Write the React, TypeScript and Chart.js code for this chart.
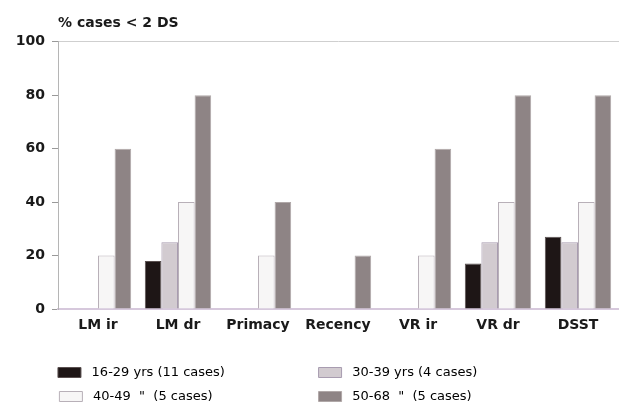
import React, { useEffect, useRef } from "react";
import { Chart, registerables } from "chart.js";

Chart.register(...registerables);

const categories = ["LM ir", "LM dr", "Primacy", "Recency", "VR ir", "VR dr", "DSST"];
const seriesLabels = [
  "16-29 yrs (11 cases)",
  "30-39 yrs (4 cases)",
  "40-49  \"  (5 cases)",
  "50-68  \"  (5 cases)",
];
const age16to29 = [0, 18, 0, 0, 0, 17, 27];
const age30to39 = [0, 25, 0, 0, 0, 25, 25];
const age40to49 = [20, 40, 20, 0, 20, 40, 40];
const age50to68 = [60, 80, 40, 20, 60, 80, 80];
const yTicks = [0, 20, 40, 60, 80, 100];
const yTitle = "% cases < 2 DS";

const fills = ["#1e1616", "#d2cbd0", "#f7f6f6", "#8e8485"];
const borders = ["#5a5050", "#a89cb0", "#b8b0b8", "#b0a8a8"];

const FONT = '"DejaVu Sans", sans-serif';
const LEG_SIZE = 13;
const LEG_PAD = 11;
const BOX_W = 23;
const PAD_L = 4;
const PAD_R = 4;
const W = 622;

function padLabels(): string[] {
  const c = document.createElement("canvas").getContext("2d")!;
  c.font = `${LEG_SIZE}px ${FONT}`;
  const x0 = 57;
  const x1 = 318;
  const L = PAD_L;
  const R = W - PAD_R;
  const w1 = x1 - x0 - LEG_PAD;
  const w2 = L + R - LEG_PAD - 2 * x0 - w1;
  const targets = [w1, w2, w1, w2].map((w) => w - BOX_W - LEG_SIZE / 2);
  return seriesLabels.map((t, i) => {
    let s = " " + t;
    while (c.measureText(s + " ").width <= targets[i] + 1) s += " ";
    return s;
  });
}

export default function App() {
  const ref = useRef<HTMLCanvasElement | null>(null);
  useEffect(() => {
    if (!ref.current) return;
    const values = [age16to29, age30to39, age40to49, age50to68];
    const legendTexts = padLabels();
    const chart = new Chart(ref.current, {
      type: "bar",
      data: {
        labels: categories,
        datasets: values.map((v, i) => ({
          label: seriesLabels[i],
          data: v,
          backgroundColor: fills[i],
          borderColor: borders[i],
          borderWidth: 1,
          categoryPercentage: 0.83,
          barPercentage: 1.0,
          xAxisID: "x",
        })),
      },
      options: {
        animation: false,
        responsive: true,
        maintainAspectRatio: false,
        layout: { padding: { left: PAD_L, right: PAD_R, top: 0, bottom: 0 } },
        plugins: {
          tooltip: { enabled: false },
          title: {
            display: true,
            text: yTitle,
            align: "start",
            fullSize: false,
            color: "#1a1a1a",
            font: { family: FONT, size: 14, weight: "bold" },
            padding: { top: 15, bottom: 2 },
          },
          legend: {
            position: "bottom",
            align: "center",
            maxHeight: 49,
            labels: {
              boxWidth: BOX_W,
              boxHeight: 10,
              padding: LEG_PAD,
              color: "#1a1a1a",
              font: { family: FONT, size: LEG_SIZE },
              generateLabels: () =>
                legendTexts.map((t, i) => ({
                  text: t,
                  fillStyle: fills[i],
                  strokeStyle: borders[i],
                  lineWidth: 1,
                  hidden: false,
                  datasetIndex: i,
                })),
            },
          },
        },
        scales: {
          x: {
            type: "category",
            grid: { display: false, drawTicks: false },
            border: { color: "#d6c8dc", width: 2 },
            afterFit: (axis: any) => {
              axis.height = 46;
            },
            ticks: {
              color: "#1a1a1a",
              padding: 8,
              font: { family: FONT, size: 14, weight: "bold" },
            },
          },
          xTop: {
            type: "category",
            position: "top",
            labels: categories,
            grid: { display: false },
            border: { color: "#cfcfcf", width: 1 },
            ticks: { display: false },
          },
          y: {
            min: 0,
            max: 100,
            afterBuildTicks: (axis: any) => {
              axis.ticks = yTicks.map((v) => ({ value: v }));
            },
            afterFit: (axis: any) => {
              axis.width = 54;
            },
            grid: { drawOnChartArea: false, tickLength: 6, color: "#999" },
            border: { color: "#b5b5b5", width: 1 },
            ticks: {
              color: "#1a1a1a",
              padding: 7,
              font: { family: FONT, size: 14, weight: "bold" },
            },
          },
        },
      },
    });
    return () => chart.destroy();
  }, []);
  return (
    <div style={{ position: "fixed", left: 0, top: 0, width: 622, height: 404, background: "#fff" }}>
      <canvas ref={ref} />
    </div>
  );
}
